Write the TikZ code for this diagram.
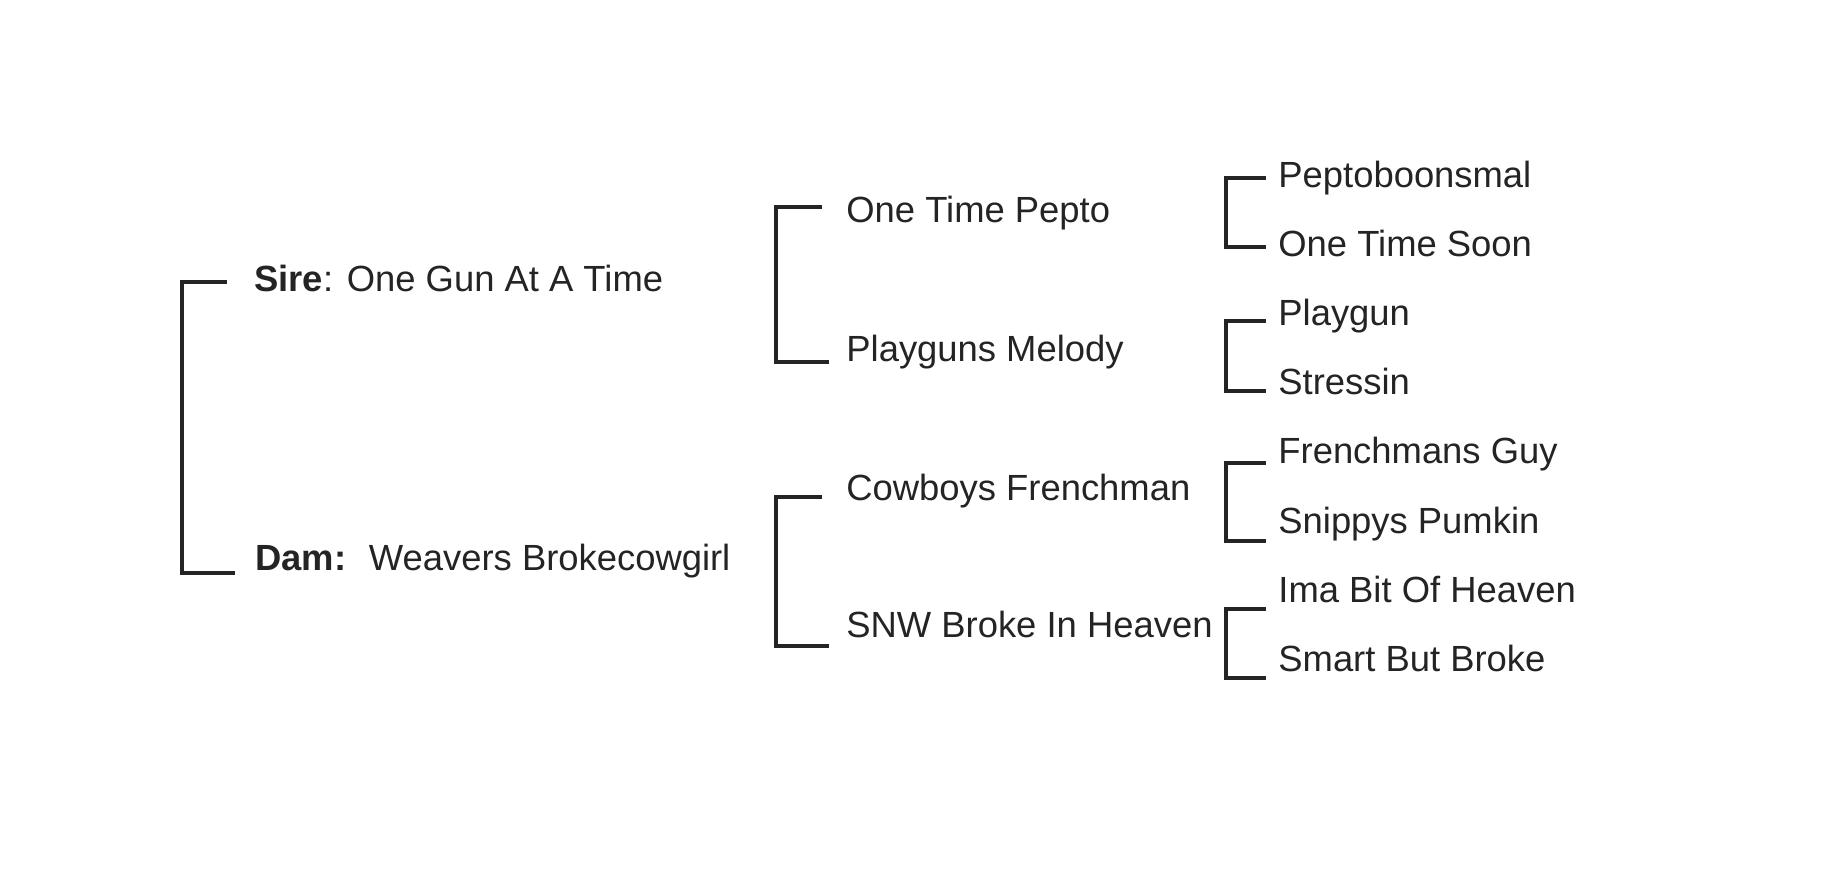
\documentclass[tikz,border=0pt]{standalone}
\usepackage{fontspec}
\setmainfont{Liberation Sans}
\usetikzlibrary{positioning}
\definecolor{ink}{HTML}{242424}

\begin{document}
\begin{tikzpicture}[x=0.5pt, y=-0.5pt,
        horse/.style={anchor=base west, inner sep=0pt, text=ink,
            font=\fontsize{18.2}{22}\selectfont},
        bracket/.style={draw=ink, line width=1.65pt}]
        \useasboundingbox (0,0) rectangle (1822,886);

        % sire and dam
        \node[horse] (sire) at (254,292) {\textbf{Sire}: One Gun At A Time};
        \node[horse] (dam) at (255,571) {\textbf{Dam:}\hspace{0.62em}Weavers Brokecowgirl};

        % grandparents
        \node[horse] (otp) at (846,223) {One Time Pepto};
        \node[horse] (pm) at (846,362) {Playguns Melody};
        \node[horse] (cf) at (846,501) {Cowboys Frenchman};
        \node[horse] (snw) at (846,638) {SNW Broke In Heaven};

        % great grandparents
        \node[horse] (pepto) at (1278,188) {Peptoboonsmal};
        \node[horse] (soon) at (1278,257) {One Time Soon};
        \node[horse] (playgun) at (1278,326) {Playgun};
        \node[horse] (stressin) at (1278,395) {Stressin};
        \node[horse] (guy) at (1278,464) {Frenchmans Guy};
        \node[horse] (pumkin) at (1278,534) {Snippys Pumkin};
        \node[horse] (ima) at (1278,603) {Ima Bit Of Heaven};
        \node[horse] (smart) at (1278,672) {Smart But Broke};

        % bracket ends
        \coordinate (sire-in) at (227,282);
        \coordinate (dam-in) at (235,573);
        \coordinate (root) at (182,428);

        \coordinate (otp-in) at (822,207);
        \coordinate (pm-in) at (829,362);
        \coordinate (sire-line) at (776,285);
        \coordinate (cf-in) at (822,497);
        \coordinate (snw-in) at (829,646);
        \coordinate (dam-line) at (776,571);

        \coordinate (pepto-in) at (1266,178);
        \coordinate (soon-in) at (1266,247);
        \coordinate (otp-line) at (1226,212);
        \coordinate (playgun-in) at (1266,321);
        \coordinate (stressin-in) at (1266,391);
        \coordinate (pm-line) at (1226,356);
        \coordinate (guy-in) at (1266,463);
        \coordinate (pumkin-in) at (1266,541);
        \coordinate (cf-line) at (1226,502);
        \coordinate (ima-in) at (1266,609);
        \coordinate (smart-in) at (1266,678);
        \coordinate (snw-line) at (1226,643);

        % brackets
        \draw[bracket] (sire-in) -| (root) |- (dam-in);
        \draw[bracket] (otp-in) -| (sire-line) |- (pm-in);
        \draw[bracket] (cf-in) -| (dam-line) |- (snw-in);
        \draw[bracket] (pepto-in) -| (otp-line) |- (soon-in);
        \draw[bracket] (playgun-in) -| (pm-line) |- (stressin-in);
        \draw[bracket] (guy-in) -| (cf-line) |- (pumkin-in);
        \draw[bracket] (ima-in) -| (snw-line) |- (smart-in);
    \end{tikzpicture}
\end{document}
